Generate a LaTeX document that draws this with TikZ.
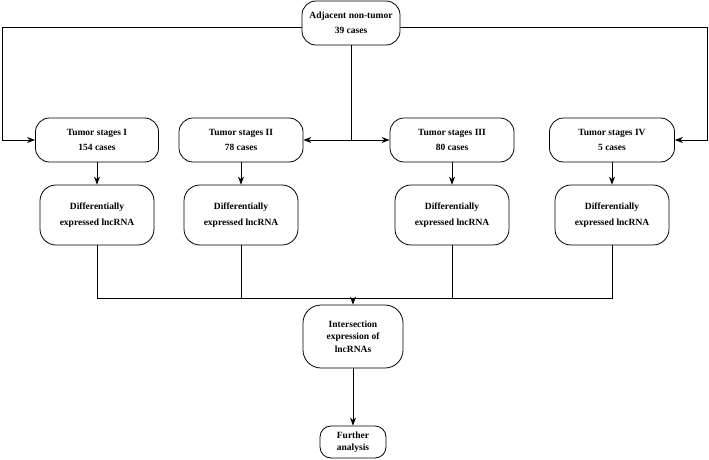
\documentclass[tikz,border=0pt]{standalone}
\usepackage{fontspec}
\setmainfont{Liberation Serif}
\usetikzlibrary{arrows.meta}

\tikzset{
  box/.style={draw, rounded corners=14pt, align=center, line width=0.8pt,
              font=\bfseries\fontsize{9.5}{15.5}\selectfont, inner sep=2pt},
  link/.style={line width=0.8pt},
}

\begin{document}
\begin{tikzpicture}[x=1pt,y=-1pt,>={Stealth[length=8pt,width=6pt]}]
  \useasboundingbox (0,0) rectangle (709,460);

  % top source
  \node[box, minimum width=98pt, minimum height=44pt] (adj) at (351,23)
       {Adjacent non-tumor\\39 cases};

  % tumor stages
  \node[box, minimum width=123pt, minimum height=44pt] (s1) at (97,140)
       {Tumor stages I\\154 cases};
  \node[box, minimum width=124pt, minimum height=44pt] (s2) at (241,140)
       {Tumor stages II\\78 cases};
  \node[box, minimum width=124pt, minimum height=44pt] (s3) at (452,140)
       {Tumor stages III\\80 cases};
  \node[box, minimum width=125pt, minimum height=44pt] (s4) at (612,140)
       {Tumor stages IV\\5 cases};

  % differential expression per stage
  \foreach \i/\x in {1/97, 2/241, 3/452, 4/612} {
    \node[box, minimum width=114pt, minimum height=60pt, rounded corners=16pt]
         (d\i) at (\x,215) {Differentially\\expressed lncRNA};
    \draw[link,->] (s\i) -- (d\i);
  }

  % result boxes
  \node[box, minimum width=100pt, minimum height=63pt, rounded corners=18pt,
        font=\bfseries\fontsize{9.5}{12.5}\selectfont] (inter) at (353,336.5)
       {Intersection\\expression of\\lncRNAs};
  \node[box, minimum width=66pt, minimum height=32pt, rounded corners=11pt,
        font=\bfseries\fontsize{9.5}{12.5}\selectfont] (fur) at (353,442)
       {Further\\analysis};

  % control branches
  \coordinate (lft) at (2,140);
  \coordinate (rgt) at (707,140);
  \draw[link,->] ([yshift=-4pt]adj.west) -| (lft) -- (s1.west);
  \draw[link,->] ([yshift=-4pt]adj.east) -| (rgt) -- (s4.east);
  \draw[link] (adj.south) -- (adj.south |- s2.east) coordinate (mid);
  \draw[link,->] (mid) -- (s2.east);
  \draw[link,->] (mid) -- (s3.west);

  % merge into intersection
  \coordinate (join) at (353,298);
  \draw[link] (d1.south) |- (d4.south |- join) -- (d4.south);
  \draw[link] (d2.south) -- (d2.south |- join);
  \draw[link] (d3.south) -- (d3.south |- join);
  \draw[link,->] (join) -- (inter);
  \draw[link,->] (inter) -- (fur);
\end{tikzpicture}
\end{document}
